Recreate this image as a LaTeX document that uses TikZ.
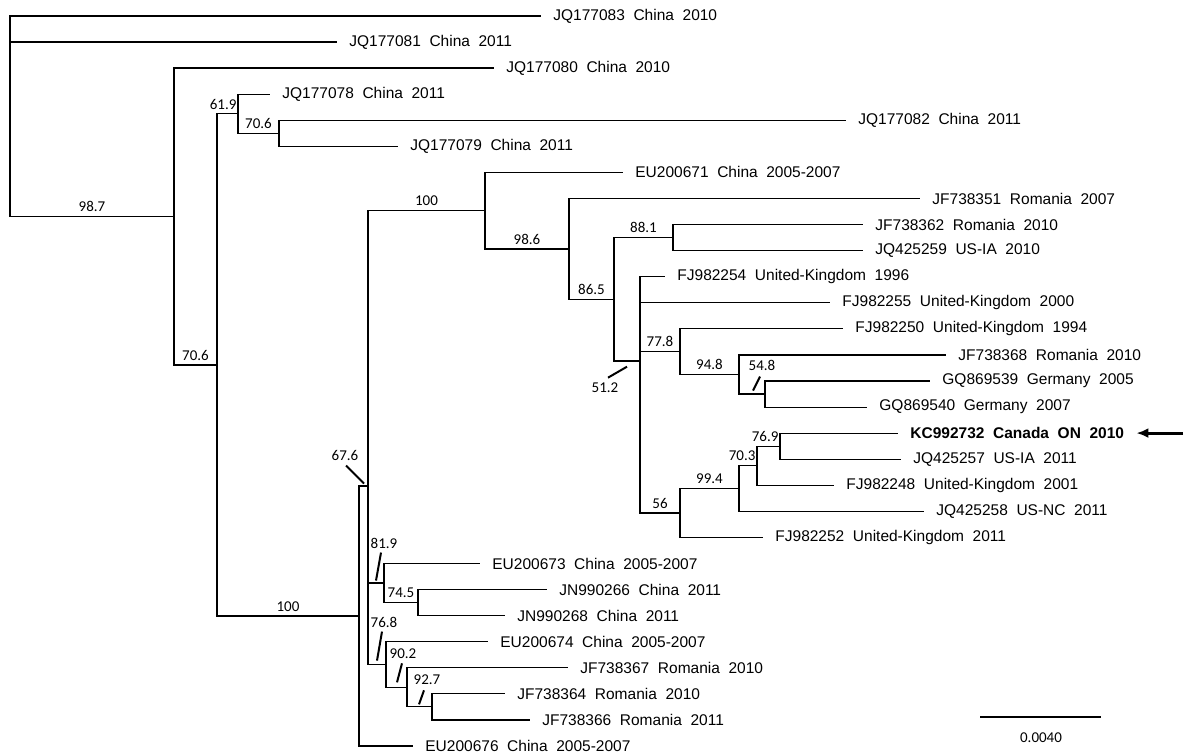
\documentclass[tikz,border=0pt]{standalone}
\usepackage{fontspec}
\setmainfont{Liberation Sans}[WordSpace=2]
\newfontfamily\bootfont{Carlito}
\usetikzlibrary{arrows.meta}

\begin{document}
\begin{tikzpicture}[x=0.5pt,y=-0.5pt,
  taxon/.style={anchor=west,inner ysep=0pt,inner xsep=6pt,font=\fontsize{7.75}{9}\selectfont},
  boot/.style={font=\bootfont\fontsize{7.5}{9}\selectfont,inner sep=2pt},
  bootmid/.style={boot,pos=.75,anchor=south},
  bootend/.style={boot,pos=1,anchor=south east,inner xsep=0.5pt},
  branch/.style={line width=0.6pt},
  leader/.style={line width=1pt},
  pointer/.style={line width=1.5pt,-{Latex[length=6pt,width=5pt]}},
  scalebar/.style={line width=1pt}]
\useasboundingbox (0,0) rectangle (1187,754);
% internal nodes
\coordinate (r0) at (10,91.5);
\coordinate (nA) at (174,216.5);
\coordinate (nB) at (217,364.9);
\coordinate (nC) at (238,113.8);
\coordinate (nE) at (279,133.4);
\coordinate (nD) at (359,616);
\coordinate (nF) at (368,486);
\coordinate (nG) at (485,210.6);
\coordinate (nJ) at (569,248.9);
\coordinate (nK) at (614,299.3);
\coordinate (nL) at (673,237.6);
\coordinate (nM) at (640,361);
\coordinate (nN) at (680,351.6);
\coordinate (nO) at (739,374.5);
\coordinate (nP) at (765,394);
\coordinate (nQ) at (680,513);
\coordinate (nR) at (739,488.5);
\coordinate (nS) at (757,465.7);
\coordinate (nT) at (780,446.1);
\coordinate (nH) at (384,583);
\coordinate (nU) at (418,602.6);
\coordinate (nI) at (386,664.5);
\coordinate (nV) at (407,687.3);
\coordinate (nW) at (432,706.8);
% taxa
\node[taxon] (t0) at (541,16) {JQ177083 China 2010};
\node[taxon] (t1) at (337,42.1) {JQ177081 China 2011};
\node[taxon] (t2) at (494,68.1) {JQ177080 China 2010};
\node[taxon] (t3) at (270,94.2) {JQ177078 China 2011};
\node[taxon] (t4) at (846,120.3) {JQ177082 China 2011};
\node[taxon] (t5) at (398,146.4) {JQ177079 China 2011};
\node[taxon] (t6) at (623,172.4) {EU200671 China 2005-2007};
\node[taxon] (t7) at (920,198.5) {JF738351 Romania 2007};
\node[taxon] (t8) at (863,224.6) {JF738362 Romania 2010};
\node[taxon] (t9) at (863,250.6) {JQ425259 US-IA 2010};
\node[taxon] (t10) at (665,276.7) {FJ982254 United-Kingdom 1996};
\node[taxon] (t11) at (830,302.8) {FJ982255 United-Kingdom 2000};
\node[taxon] (t12) at (843,328.8) {FJ982250 United-Kingdom 1994};
\node[taxon] (t13) at (946,354.9) {JF738368 Romania 2010};
\node[taxon] (t14) at (930,381) {GQ869539 Germany 2005};
\node[taxon] (t15) at (867,407.1) {GQ869540 Germany 2007};
\node[taxon,font=\fontsize{7.75}{9}\selectfont\bfseries] (t16) at (898,433.1) {KC992732 Canada ON 2010};
\node[taxon] (t17) at (901,459.2) {JQ425257 US-IA 2011};
\node[taxon] (t18) at (834,485.3) {FJ982248 United-Kingdom 2001};
\node[taxon] (t19) at (924,511.3) {JQ425258 US-NC 2011};
\node[taxon] (t20) at (763,537.4) {FJ982252 United-Kingdom 2011};
\node[taxon] (t21) at (480,563.5) {EU200673 China 2005-2007};
\node[taxon] (t22) at (547,589.5) {JN990266 China 2011};
\node[taxon] (t23) at (505,615.6) {JN990268 China 2011};
\node[taxon] (t24) at (488,641.7) {EU200674 China 2005-2007};
\node[taxon] (t25) at (568,667.8) {JF738367 Romania 2010};
\node[taxon] (t26) at (505,693.8) {JF738364 Romania 2010};
\node[taxon] (t27) at (530,719.9) {JF738366 Romania 2011};
\node[taxon] (t28) at (413,746) {EU200676 China 2005-2007};
% branches
\draw[branch] (r0) |- (t0.west) (r0) |- (t1.west) (r0) |- node[bootmid]{98.7} (nA);
\draw[branch] (nA) |- (t2.west) (nA) |- node[bootmid]{70.6} (nB);
\draw[branch] (nB) |- node[bootend]{61.9} (nC) (nB) |- node[bootmid]{100} (nD);
\draw[branch] (nC) |- (t3.west) (nC) |- node[bootmid]{70.6} (nE);
\draw[branch] (nE) |- (t4.west) (nE) |- (t5.west);
\draw[branch] (nD) |- (nF) (nD) |- (t28.west);
\draw[branch] (nF) |- node[bootmid]{100} (nG) (nF) |- (nH) (nF) |- (nI);
\draw[branch] (nG) |- (t6.west) (nG) |- node[bootmid]{98.6} (nJ);
\draw[branch] (nJ) |- (t7.west) (nJ) |- node[bootmid]{86.5} (nK);
\draw[branch] (nK) |- node[bootmid]{88.1} (nL) (nK) |- (nM);
\draw[branch] (nL) |- (t8.west) (nL) |- (t9.west);
\draw[branch] (nM) |- (t10.west) (nM) |- (t11.west) (nM) |- node[bootmid]{77.8} (nN) (nM) |- node[bootmid]{56} (nQ);
\draw[branch] (nN) |- (t12.west) (nN) |- node[bootmid]{94.8} (nO);
\draw[branch] (nO) |- (t13.west) (nO) |- (nP);
\draw[branch] (nP) |- (t14.west) (nP) |- (t15.west);
\draw[branch] (nQ) |- node[bootmid]{99.4} (nR) (nQ) |- (t20.west);
\draw[branch] (nR) |- node[bootend]{70.3} (nS) (nR) |- (t19.west);
\draw[branch] (nS) |- node[bootend]{76.9} (nT) (nS) |- (t18.west);
\draw[branch] (nT) |- (t16.west) (nT) |- (t17.west);
\draw[branch] (nH) |- (t21.west) (nH) |- node[bootmid]{74.5} (nU);
\draw[branch] (nU) |- (t22.west) (nU) |- (t23.west);
\draw[branch] (nI) |- (t24.west) (nI) |- (nV);
\draw[branch] (nV) |- (t25.west) (nV) |- (nW);
\draw[branch] (nW) |- (t26.west) (nW) |- (t27.west);
% support values set off with a leader
\node[boot] (b676) at (345,455) {67.6};
\node[boot] (b819) at (384,543) {81.9};
\node[boot] (b768) at (384,622) {76.8};
\node[boot] (b902) at (403,654) {90.2};
\node[boot] (b927) at (427,680) {92.7};
\node[boot] (b512) at (605,388) {51.2};
\node[boot] (b548) at (762,365) {54.8};
\draw[leader] (b676.south) ++(1,1) -- ++(18,18);
\draw[leader] (b819.south) ++(-3,0) -- ++(-5,28);
\draw[leader] (b768.south) ++(-2,0) -- ++(-5,29);
\draw[leader] (b902.south) ++(-1,0) -- ++(-5,19);
\draw[leader] (b927.south) ++(-3,1) -- ++(-5,14);
\draw[leader] (b512.north) ++(3,-1) -- ++(19,-11);
\draw[leader] (b548.south) ++(-2,2) -- ++(-7,14);
% marker and scale
\coordinate (arr) at (1183,433.1);
\draw[pointer] (arr) -- (t16.east);
\coordinate (sb0) at (980,717);
\coordinate (sb1) at (1101,717);
\draw[scalebar] (sb0) -- (sb1);
\node[boot] (scl) at (1041,738) {0.0040};
\end{tikzpicture}
\end{document}
